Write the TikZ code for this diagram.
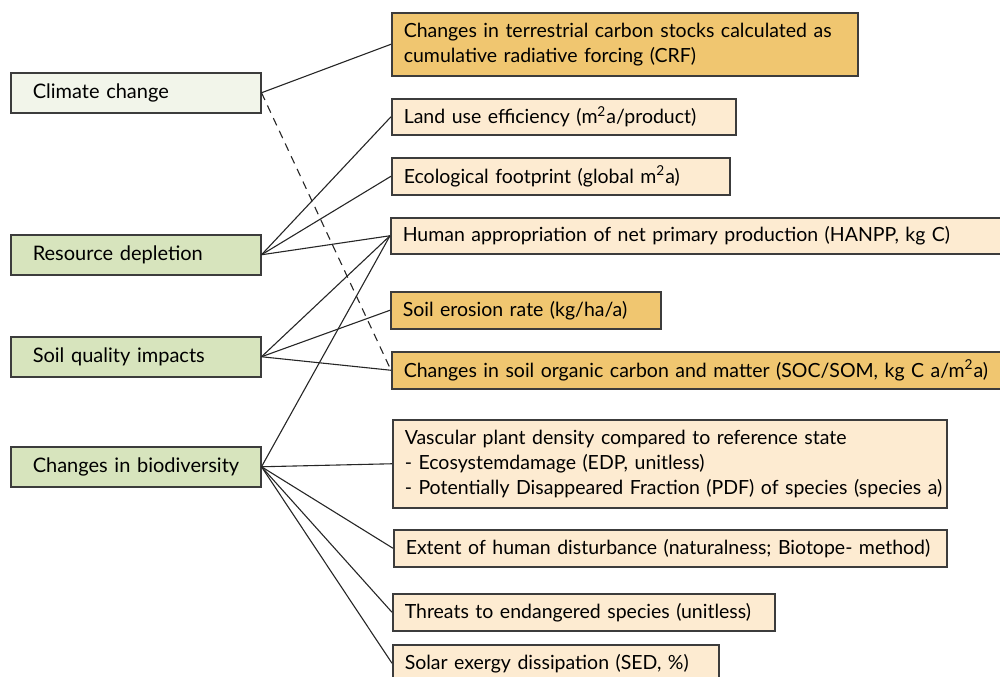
\documentclass[tikz,border=0pt]{standalone}
\usepackage{fontspec}
\setmainfont{Lato}
\usetikzlibrary{positioning}
\definecolor{palegreen}{RGB}{242, 245, 234}
\definecolor{leafgreen}{RGB}{215, 228, 189}
\definecolor{strongorange}{RGB}{240, 198, 112}
\definecolor{softorange}{RGB}{253, 235, 209}
\definecolor{edgegray}{RGB}{60, 60, 60}

\begin{document}
\begin{tikzpicture}[
        x=0.5pt, y=-0.5pt,
        nobreak/.style={execute at begin node={\leftskip=0pt\rightskip=0pt plus 1fil minus 40pt\parfillskip=0pt plus 1fil\hyphenpenalty=10000\exhyphenpenalty=10000}},
        impact/.style={rectangle, draw=edgegray, line width=0.75pt, anchor=north west, fill=leafgreen, minimum height=20pt, inner xsep=11pt, text width=103pt, nobreak, font=\fontsize{10}{12}\selectfont},
        indicator/.style={rectangle, draw=edgegray, line width=0.75pt, anchor=north west, fill=softorange, inner xsep=6pt, inner ysep=2pt, nobreak, font=\fontsize{9.75}{12.6}\selectfont},
        link/.style={line width=0.55pt, black!85}
    ]
        \useasboundingbox (0,0) rectangle (1000,676);

        % impact categories
        \node[impact, fill=palegreen] (climate) at (10,72) {Climate change};
        \node[impact] (resource) at (10,234) {Resource depletion};
        \node[impact] (soil) at (10,336) {Soil quality impacts};
        \node[impact] (biodiv) at (10,446) {Changes in biodiversity};

        % indicators
        \node[indicator, fill=strongorange, text width=221pt, minimum height=31.5pt] (crf) at (391,12) {Changes in terrestrial carbon stocks calculated as\\cumulative radiative forcing (CRF)};
        \node[indicator, text width=160pt, minimum height=18pt] (landuse) at (391,98) {Land use efficiency (m\textsuperscript{2}a/product)};
        \node[indicator, text width=157pt, minimum height=18.5pt] (footprint) at (391,157) {Ecological footprint (global m\textsuperscript{2}a)};
        \node[indicator, text width=300pt, minimum height=18pt] (hanpp) at (390,217) {Human appropriation of net primary production (HANPP, kg C)};
        \node[indicator, fill=strongorange, text width=123pt, minimum height=18.5pt] (erosion) at (390,291) {Soil erosion rate (kg/ha/a)};
        \node[indicator, fill=strongorange, text width=305pt, minimum height=18.5pt] (soc) at (391,351) {Changes in soil organic carbon and matter (SOC/SOM, kg C a/m\textsuperscript{2}a)};
        \node[indicator, text width=265pt, minimum height=44pt] (vascular) at (392,419) {Vascular plant density compared to reference state\\- Ecosystemdamage (EDP, unitless)\\- Potentially Disappeared Fraction (PDF) of species (species a)};
        \node[indicator, text width=264.5pt, minimum height=18.5pt] (extent) at (393,529) {Extent of human disturbance (naturalness; Biotope- method)};
        \node[indicator, text width=179pt, minimum height=18.5pt] (threats) at (392,593) {Threats to endangered species (unitless)};
        \node[indicator, text width=151pt, minimum height=18.5pt] (solar) at (392,644) {Solar exergy dissipation (SED, \%)};

        % links
        \draw[link] (climate.east) -- (crf.west);
        \draw[link, dash pattern=on 4pt off 3pt] (climate.east) -- (soc.west);
        \draw[link] (resource.east) -- (landuse.west);
        \draw[link] (resource.east) -- (footprint.west);
        \draw[link] (resource.east) -- (hanpp.west);
        \draw[link] (soil.east) -- (hanpp.west);
        \draw[link] (soil.east) -- (erosion.west);
        \draw[link] (soil.east) -- (soc.west);
        \draw[link] (biodiv.east) -- (hanpp.west);
        \draw[link] (biodiv.east) -- (vascular.west);
        \draw[link] (biodiv.east) -- (extent.west);
        \draw[link] (biodiv.east) -- (threats.west);
        \draw[link] (biodiv.east) -- (solar.west);
    \end{tikzpicture}
\end{document}
